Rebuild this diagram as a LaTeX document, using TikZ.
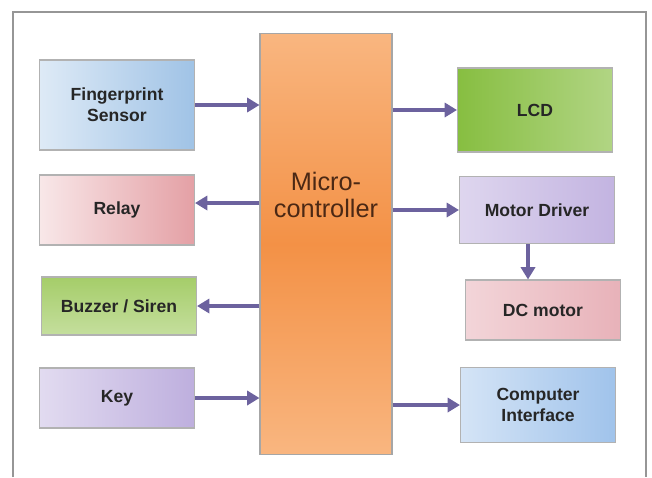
\documentclass[tikz,border=0pt]{standalone}
\usepackage{fontspec}
\setmainfont{Liberation Sans}
\usetikzlibrary{arrows.meta}
\definecolor{arrowpurple}{RGB}{108,98,158}
\definecolor{framegray}{RGB}{150,150,150}
\definecolor{fpblue}{RGB}{160,195,230}
\definecolor{relaypink}{RGB}{228,160,165}
\definecolor{buzzgreen}{RGB}{165,205,105}
\definecolor{keypurple}{RGB}{190,175,222}
\definecolor{lcdgreen}{RGB}{135,190,65}
\definecolor{drvpurple}{RGB}{195,180,225}
\definecolor{dcpink}{RGB}{232,178,185}
\definecolor{pcblue}{RGB}{160,195,235}
\definecolor{mcuorange}{RGB}{243,145,70}
\definecolor{mculight}{RGB}{249,182,128}
\begin{document}
\begin{tikzpicture}[x=0.02cm, y=-0.02cm,
  block/.style={draw=black!30, line width=0.6pt, minimum width=3.1cm,
    font=\bfseries, text=black!85, align=center, inner sep=2pt},
  arr/.style={-{Triangle[length=7pt,width=8pt]}, line width=2pt, draw=arrowpurple}]
\useasboundingbox (0,0) rectangle (652,477);
% frame
\draw [framegray, line width=1.2pt] (13,477) -- (13,12) -- (646,12) -- (646,477);
% controller
\node [draw=black!35, line width=0.6pt, minimum width=2.64cm, minimum height=8.44cm,
  top color=mculight, bottom color=mculight, middle color=mcuorange] (mcu) at (326,244) {};
\node [font=\Large, text={rgb,255:red,75;green,40;blue,20}, align=center, inner sep=0pt]
  (mcutext) at (326,195) {Micro-\\[-3pt]controller};
% left side
\node [block, minimum height=1.8cm, left color=fpblue!35, right color=fpblue] (finger) at (117,105) {Fingerprint\\Sensor};
\node [block, minimum height=1.4cm, left color=relaypink!25, right color=relaypink] (relay) at (117,210) {Relay};
\node [block, minimum height=1.16cm, top color=buzzgreen, bottom color=buzzgreen!65] (buzzer) at (119,306) {Buzzer / Siren};
\node [block, minimum height=1.2cm, left color=keypurple!45, right color=keypurple] (key) at (117,398) {Key};
% right side
\node [block, minimum height=1.68cm, left color=lcdgreen, right color=lcdgreen!65] (lcd) at (535,110) {LCD};
\node [block, minimum height=1.34cm, left color=drvpurple!55, right color=drvpurple] (driver) at (537,210) {Motor Driver};
\node [block, minimum height=1.2cm, left color=dcpink!55, right color=dcpink] (dcmotor) at (543,310) {DC motor};
\node [block, minimum height=1.5cm, left color=pcblue!45, right color=pcblue] (pcif) at (538,405) {Computer\\Interface};
% connectors
\draw [arr] (finger.east) -- (finger.east -| mcu.west);
\draw [arr] ([yshift=0.14cm]mcu.west |- relay.east) -- ([yshift=0.14cm]relay.east);
\draw [arr] (mcu.west |- buzzer.east) -- (buzzer.east);
\draw [arr] (key.east) -- (key.east -| mcu.west);
\draw [arr] (mcu.east |- lcd.west) -- (lcd.west);
\draw [arr] (mcu.east |- driver.west) -- (driver.west);
\draw [arr] ([xshift=-0.18cm]driver.south) -- ([xshift=-0.18cm]driver.south |- dcmotor.north);
\draw [arr] (mcu.east |- pcif.west) -- (pcif.west);
\end{tikzpicture}
\end{document}
